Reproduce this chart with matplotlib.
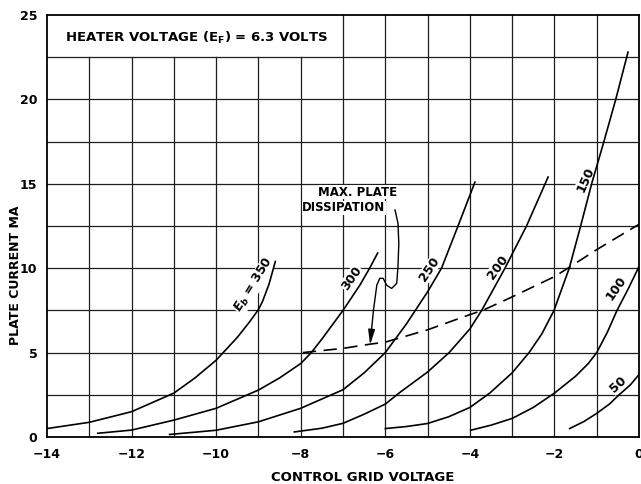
import numpy as np
import matplotlib
matplotlib.use("Agg")
import matplotlib.pyplot as plt

# ==== 読み取ったデータ (control grid voltage [V], plate current [mA]) ====
x350 = [-14, -13, -12, -11, -10.5, -10, -9.5, -9.2, -9, -8.9, -8.75, -8.6]
y350 = [0.5, 0.87, 1.5, 2.6, 3.5, 4.55, 5.9, 6.85, 7.55, 8.05, 9.05, 10.4]

x300 = [-12.8, -12, -11, -10, -9, -8.5, -8, -7.75, -7.5, -7.0, -6.6, -6.37, -6.18]
y300 = [0.22, 0.41, 1.0, 1.7, 2.78, 3.5, 4.35, 5.0, 5.8, 7.5, 9.0, 10.0, 10.9]

x250 = [-11.1, -10, -9, -8.25, -8, -7, -6.5, -6, -5.5, -5, -4.67, -4.28, -3.88]
y250 = [0.15, 0.4, 0.9, 1.5, 1.7, 2.8, 3.8, 5.0, 6.7, 8.6, 10.0, 12.5, 15.1]

x200 = [-8.15, -7.5, -7, -6.5, -6, -5.65, -5, -4.49, -4, -3.72, -3.17, -2.66, -2.15]
y200 = [0.3, 0.52, 0.81, 1.35, 1.95, 2.65, 3.85, 5.0, 6.4, 7.5, 10.0, 12.5, 15.4]

x150 = [-6.0, -5.5, -5, -4.5, -4, -3.53, -3, -2.6, -2.3, -2.01, -1.65, -1.38, -1.12, -0.83, -0.55, -0.26]
y150 = [0.5, 0.62, 0.8, 1.2, 1.75, 2.6, 3.8, 5.0, 6.1, 7.5, 10.0, 12.5, 15.0, 17.5, 20.0, 22.8]

x100 = [-3.98, -3.5, -3, -2.5, -2, -1.5, -1.2, -1.0, -0.75, -0.52, -0.25, 0]
y100 = [0.4, 0.7, 1.1, 1.75, 2.6, 3.6, 4.35, 5.0, 6.2, 7.5, 8.8, 10.1]

x50 = [-1.64, -1.3, -1.0, -0.7, -0.47, -0.2, 0]
y50 = [0.5, 0.92, 1.4, 1.95, 2.5, 3.1, 3.7]

# 最大プレート損失 (破線)
xmax = [-7.95, -7, -6.36, -6, -5, -4, -3.68, -3, -2, -1.65, -1, 0]
ymax = [5.0, 5.25, 5.5, 5.62, 6.35, 7.25, 7.52, 8.3, 9.5, 10.05, 11.1, 12.6]

# 注記の矢印の経路
arrow_x = [-5.77, -5.7, -5.68, -5.7, -5.73, -5.85, -5.97, -6.05, -6.13, -6.2, -6.28]
arrow_y = [13.45, 12.66, 11.47, 10.09, 9.1, 8.8, 9.0, 9.4, 9.4, 9.0, 7.5]
arrow_tip = (-6.36, 5.45)

# 曲線ラベル: (text, x, y, angle)
curve_labels = [
    ("$E_b$ = 350", -9.1, 9.0, 58),
    ("300", -6.8, 9.4, 55),
    ("250", -4.95, 9.95, 56),
    ("200", -3.33, 10.05, 54),
    ("150", -1.27, 15.27, 66),
    ("100", -0.55, 8.8, 55),
    ("50", -0.5, 3.1, 42),
]

xticks = [-14, -12, -10, -8, -6, -4, -2, 0]
yticks = [0, 5, 10, 15, 20, 25]

plt.rcParams['font.family'] = ['DejaVu Sans']
plt.rcParams['font.weight'] = 'bold'
plt.rcParams['mathtext.fontset'] = 'custom'
plt.rcParams['mathtext.it'] = 'DejaVu Sans:italic:bold'
plt.rcParams['mathtext.rm'] = 'DejaVu Sans:bold'

W, H = 641, 484
fig = plt.figure(figsize=(W / 100, H / 100), dpi=100)
ax = fig.add_axes([47 / W, 1 - 437 / H, 592 / W, 422 / H])
ax.set_xlim(-14, 0)
ax.set_ylim(0, 25)

# ==== グリッド ====
gkw = dict(color="0.12", lw=0.9, zorder=1)
for gx in range(-13, 0):
    if gx <= -8:
        ax.axvline(gx, ymax=22.5 / 25, **gkw)  # 上部は注記の枠
    else:
        ax.axvline(gx, **gkw)
for gy in np.arange(2.5, 25, 2.5):
    ax.axhline(gy, **gkw)

for s in ax.spines.values():
    s.set_linewidth(1.3)

# ==== 曲線 ====
ckw = dict(color="black", lw=1.2, zorder=3)
for xs, ys in [(x350, y350), (x300, y300), (x250, y250), (x200, y200),
               (x150, y150), (x100, y100), (x50, y50)]:
    ax.plot(xs, ys, **ckw)

ax.plot(xmax, ymax, color="black", lw=1.2, dashes=(8, 4.5), zorder=3)

# ラベルの白地はグリッドだけ隠す (曲線は上に描く)
for txt, tx, ty, ang in curve_labels:
    ax.text(tx, ty, txt, rotation=ang, ha="center", va="center",
            fontsize=9, fontweight="bold", zorder=2,
            bbox=dict(facecolor="white", edgecolor="none", pad=0.3))

# ==== 注記 ====
ax.text(-13.57, 23.65, r"HEATER VOLTAGE (E$_\mathrm{F}$) = 6.3 VOLTS",
        ha="left", va="center", fontsize=9.5, fontweight="bold")
ax.text(-6.65, 14.5, "MAX. PLATE", ha="center", va="center",
        fontsize=8.5, fontweight="bold", zorder=4,
        bbox=dict(facecolor="white", edgecolor="none", pad=0.5))
ax.text(-6.98, 13.57, "DISSIPATION", ha="center", va="center",
        fontsize=8.5, fontweight="bold", zorder=4,
        bbox=dict(facecolor="white", edgecolor="none", pad=0.5))
ax.plot(arrow_x, arrow_y, color="black", lw=1.0, zorder=4)
ax.annotate("", xy=arrow_tip, xytext=(arrow_x[-1], arrow_y[-1]),
            arrowprops=dict(arrowstyle="-|>,head_length=0.9,head_width=0.2",
                            color="black", lw=1.0, shrinkA=0, shrinkB=0),
            zorder=4)

# ==== 軸 ====
ax.set_xticks(xticks)
ax.set_xticklabels([str(t).replace("-", "\u2212") for t in xticks])
ax.set_yticks(yticks)
ax.tick_params(length=0, labelsize=9)
ax.tick_params(axis="x", pad=8)
ax.tick_params(axis="y", pad=7)
ax.set_xlabel("CONTROL GRID VOLTAGE", fontsize=9.5, fontweight="bold", va="center")
ax.xaxis.set_label_coords(0.534, -0.095)
ax.set_ylabel("PLATE CURRENT MA", fontsize=9, fontweight="bold", va="center")
ax.yaxis.set_label_coords(-0.054, 0.384)

fig.savefig("out.png", dpi=100)
